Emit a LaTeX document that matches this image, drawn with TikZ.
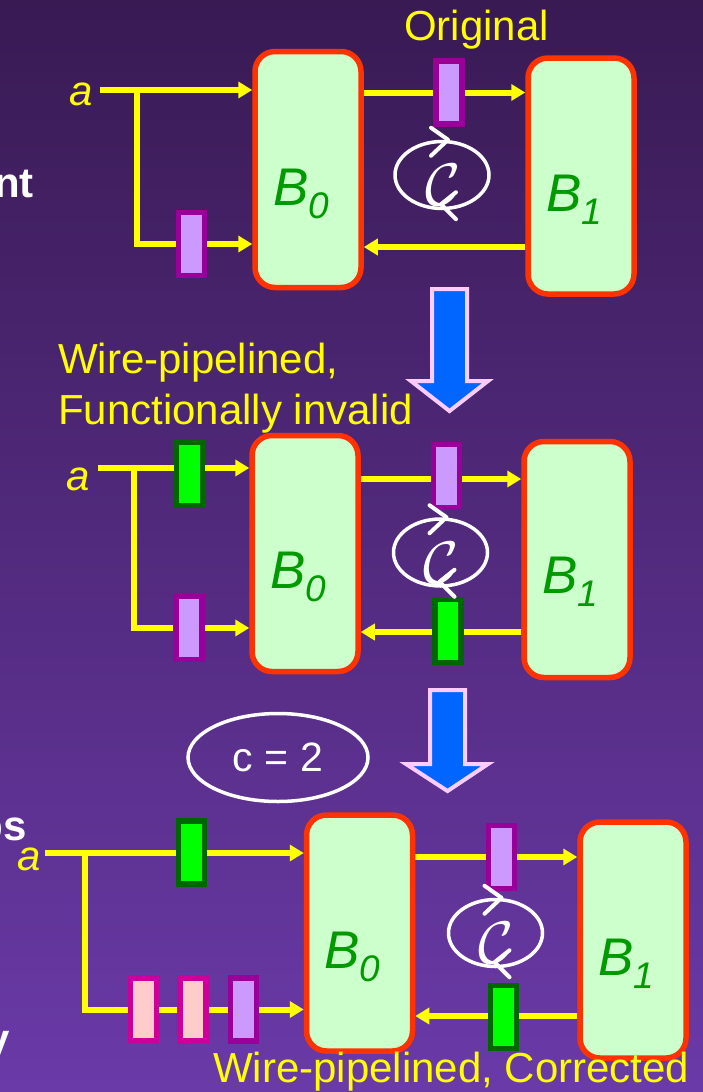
\documentclass[tikz,border=0pt]{standalone}
\usepackage{fontspec}
\setmainfont{Liberation Sans}
\usepackage{graphicx}
\usetikzlibrary{arrows.meta,shapes.geometric,positioning}

\definecolor{bgtop}{HTML}{391A53}
\definecolor{bgbot}{HTML}{6A3AA8}
\definecolor{wireyel}{HTML}{FFFF00}
\definecolor{boxred}{HTML}{FF3300}
\definecolor{boxfill}{HTML}{CCFFCC}
\definecolor{labgreen}{HTML}{009900}
\definecolor{regpurple}{HTML}{CC99FF}
\definecolor{regpurpleb}{HTML}{990099}
\definecolor{reggreen}{HTML}{00FF00}
\definecolor{reggreenb}{HTML}{006600}
\definecolor{regpink}{HTML}{FFCCCC}
\definecolor{regpinkb}{HTML}{CC0099}
\definecolor{flowblue}{HTML}{0066FF}
\definecolor{flowpink}{HTML}{FFCCFF}

\pgfdeclarelayer{back}
\pgfdeclarelayer{wires}
\pgfsetlayers{back,wires,main}

\newcommand{\blocklabel}[1]{B\raisebox{-13pt}{\fontsize{37}{40}\selectfont #1}}
\newcommand{\cyclemark}{\scalebox{6}{$\mathcal{C}$}}

\begin{document}
\begin{tikzpicture}[x=1pt, y=-1pt,
    box/.style={draw=boxred, fill=boxfill, line width=5.5pt, rounded corners=20pt,
      minimum width=106pt, minimum height=236pt, inner sep=0pt},
    blbl/.style={text=labgreen, font=\fontsize{53}{60}\selectfont\itshape, inner sep=0pt, anchor=base},
    reg/.style={line width=5.5pt, minimum width=26pt, minimum height=63pt, inner sep=0pt},
    purplereg/.style={reg, draw=regpurpleb, fill=regpurple},
    greenreg/.style={reg, draw=reggreenb, fill=reggreen},
    pinkreg/.style={reg, draw=regpinkb, fill=regpink},
    wire/.style={draw=wireyel, line width=6pt, -{Triangle[length=14pt,width=16pt]}},
    ytext/.style={text=wireyel, font=\fontsize{42}{50}\selectfont, inner sep=0pt, anchor=base west},
    ain/.style={text=wireyel, font=\fontsize{42}{50}\selectfont\itshape, inner sep=0pt, anchor=base east},
    side/.style={text=white, font=\fontsize{42}{50}\selectfont\bfseries, inner sep=0pt, anchor=base east},
    cyc/.style={draw=white, ellipse, line width=3.5pt, minimum width=94pt, minimum height=67pt, inner sep=0pt},
    cyctext/.style={text=white, inner sep=0pt},
    chev/.style={draw=white, line width=4pt, line cap=round, line join=round},
    flow/.style={fill=flowblue, draw=flowpink, line width=4pt}
  ]

  % Background
  \useasboundingbox (0,0) rectangle (703,1092);
  \begin{pgfonlayer}{back}
    \shade[top color=bgtop, bottom color=bgbot] (0,0) rectangle (703,1092);
  \end{pgfonlayer}

  % Cut-off slide text on the left
  \node[side] (t1) at (34,197) {nt};
  \node[side] (t2) at (27,840) {ps};
  \node[side] (t3) at (10,1053) {y};

  % ---------------- Original ----------------
  \node[box] (B0a) at (308,169.5) {};
  \node[box] (B1a) at (581,176) {};
  \node[blbl] (L0a) at ([xshift=-7pt,yshift=-36pt]B0a.center) {\blocklabel{0}};
  \node[blbl] (L1a) at ([xshift=-7pt,yshift=-35pt]B1a.center) {\blocklabel{1}};

  \node[ain] (a1) at (93.5,105) {a};
  \coordinate (s1) at (100,90);
  \coordinate (j1) at (137,90);
  \coordinate (f1) at (450,247);
  \node[purplereg] (R1t) at (449,92.5) {};
  \node[purplereg] (R1b) at (191.5,244) {};

  \begin{pgfonlayer}{wires}
    \draw[wire] (s1) -- (s1 -| B0a.west);
    \draw[wire] (j1) |- (B0a.west |- R1b);
    \draw[wire] (B0a.east |- R1t) -- (B1a.west |- R1t);
    \draw[wire] (B1a.west |- f1) -- (B0a.east |- f1);
  \end{pgfonlayer}

  \node[cyc] (c1) at (442,175) {};
  \node[cyctext] (c1g) at ([shift={(1,10)}]c1.center) {\cyclemark};
  \draw[chev] ([shift={(-11,-12)}]c1.north) -- ([shift={(6,0)}]c1.north) -- ([shift={(-11,16)}]c1.north);
  \draw[chev] ([shift={(14,-18)}]c1.south) -- ([shift={(-1,-6)}]c1.south) -- ([shift={(14,9)}]c1.south);

  \node[ytext] (orig) at (404,40) {Original};

  % Down arrow
  \path[flow] (432,289) -- (467,289) -- (467,381) -- (488,381) -- (449.5,411)
    -- (411,381) -- (432,381) -- cycle;

  % ---------------- Wire-pipelined, invalid ----------------
  \node[box] (B0b) at (305,553.5) {};
  \node[box] (B1b) at (577,559.5) {};
  \node[blbl] (L0b) at ([xshift=-7pt,yshift=-35pt]B0b.center) {\blocklabel{0}};
  \node[blbl] (L1b) at ([xshift=-7pt,yshift=-34pt]B1b.center) {\blocklabel{1}};

  \node[ain] (a2) at (90,490) {a};
  \coordinate (s2) at (98,468);
  \coordinate (j2) at (134,468);
  \coordinate (m2) at (450,479);
  \coordinate (f2) at (450,632);
  \node[greenreg] (G2a) at (189.5,474) {};
  \node[purplereg] (R2b) at (189,628) {};
  \node[purplereg] (R2t) at (446.5,476) {};
  \node[greenreg] (G2b) at (448,631) {};

  \begin{pgfonlayer}{wires}
    \draw[wire] (s2) -- (s2 -| B0b.west);
    \draw[wire] (j2) |- (B0b.west |- R2b);
    \draw[wire] (B0b.east |- m2) -- (B1b.west |- m2);
    \draw[wire] (B1b.west |- f2) -- (B0b.east |- f2);
  \end{pgfonlayer}

  \node[cyc] (c2) at (440.5,552.5) {};
  \node[cyctext] (c2g) at ([shift={(1,10)}]c2.center) {\cyclemark};
  \draw[chev] ([shift={(-11,-12)}]c2.north) -- ([shift={(6,0)}]c2.north) -- ([shift={(-11,16)}]c2.north);
  \draw[chev] ([shift={(14,-18)}]c2.south) -- ([shift={(-1,-6)}]c2.south) -- ([shift={(14,9)}]c2.south);

  \node[ytext] (wp1) at (58,373) {Wire-pipelined,};
  \node[ytext] (wp2) at (58,424) {Functionally invalid};

  % Down arrow
  \path[flow] (430,690) -- (465,690) -- (465,764) -- (488,764) -- (447.5,791)
    -- (406,764) -- (430,764) -- cycle;

  % Cycle count
  \node[cyc, minimum width=180pt, minimum height=88pt, text=white,
    font=\fontsize{41}{48}\selectfont] (cnt) at (278,757.5) {c = 2};

  % ---------------- Wire-pipelined, corrected ----------------
  \node[box] (B0c) at (359.5,933) {};
  \node[box] (B1c) at (633,940) {};
  \node[blbl] (L0c) at ([xshift=-7pt,yshift=-35pt]B0c.center) {\blocklabel{0}};
  \node[blbl] (L1c) at ([xshift=-7pt,yshift=-35pt]B1c.center) {\blocklabel{1}};

  \node[ain] (a3) at (41,870) {a};
  \coordinate (s3) at (45,853);
  \coordinate (j3) at (85,853);
  \coordinate (f3) at (500,1016);
  \node[greenreg] (G3a) at (191.5,852.5) {};
  \node[pinkreg] (K3a) at (143.5,1009.5) {};
  \node[pinkreg] (K3b) at (193,1009.5) {};
  \node[purplereg] (R3b) at (243.5,1009.5) {};
  \node[purplereg] (R3t) at (501.5,857) {};
  \node[greenreg] (G3b) at (503.5,1017) {};

  \begin{pgfonlayer}{wires}
    \draw[wire] (s3) -- (s3 -| B0c.west);
    \draw[wire] (j3) |- (B0c.west |- R3b);
    \draw[wire] (B0c.east |- R3t) -- (B1c.west |- R3t);
    \draw[wire] (B1c.west |- f3) -- (B0c.east |- f3);
  \end{pgfonlayer}

  \node[cyc] (c3) at (495.5,933) {};
  \node[cyctext] (c3g) at ([shift={(1,10)}]c3.center) {\cyclemark};
  \draw[chev] ([shift={(-11,-12)}]c3.north) -- ([shift={(6,0)}]c3.north) -- ([shift={(-11,16)}]c3.north);
  \draw[chev] ([shift={(14,-18)}]c3.south) -- ([shift={(-1,-6)}]c3.south) -- ([shift={(14,9)}]c3.south);

  \node[ytext] (wpc) at (213,1082) {Wire-pipelined, Corrected};
\end{tikzpicture}
\end{document}
